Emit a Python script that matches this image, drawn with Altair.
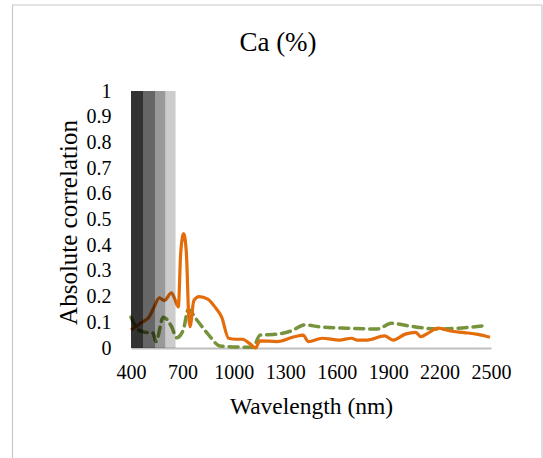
import altair as alt
import pandas as pd

# ---- data ----
orange_wl = [400, 464, 505, 535, 565, 595, 636, 656, 676, 690, 707, 723, 737, 744, 767, 797,
             848, 889, 929, 969, 1010, 1050, 1091, 1127, 1151, 1252, 1353, 1404, 1434, 1514,
             1616, 1687, 1717, 1778, 1879, 1929, 2000, 2061, 2091, 2131, 2192, 2263, 2343,
             2424, 2494]
orange_r = [0.07, 0.10, 0.12, 0.16, 0.195, 0.185, 0.215, 0.19, 0.16, 0.37, 0.445, 0.37, 0.12,
            0.083, 0.185, 0.20, 0.19, 0.16, 0.12, 0.038, 0.034, 0.034, 0.018, 0.0, 0.028,
            0.025, 0.044, 0.05, 0.025, 0.038, 0.031, 0.038, 0.031, 0.031, 0.047, 0.031,
            0.054, 0.061, 0.044, 0.057, 0.077, 0.066, 0.06, 0.053, 0.042]

green_wl = [400, 444, 484, 528, 546, 588, 637, 666, 705, 734, 783, 848, 919, 1016, 1113,
            1152, 1252, 1333, 1414, 1495, 1657, 1838, 1919, 2020, 2181, 2303, 2465]
green_r = [0.12, 0.07, 0.061, 0.058, 0.025, 0.12, 0.083, 0.04, 0.07, 0.15, 0.11, 0.055,
           0.008, 0.004, 0.003, 0.05, 0.054, 0.066, 0.09, 0.083, 0.077, 0.074, 0.096, 0.086,
           0.074, 0.077, 0.087]

band_start = [400, 470, 540, 600]
band_end = [470, 540, 600, 660]
band_opacity = [0.8, 0.6, 0.4, 0.2]

x_ticks = [400, 700, 1000, 1300, 1600, 1900, 2200, 2500]
y_ticks = [0, 0.1, 0.2, 0.3, 0.4, 0.5, 0.6, 0.7, 0.8, 0.9, 1]

FONT = "Liberation Serif, Times New Roman, DejaVu Serif, serif"
W, H = 360, 257

orange_df = pd.DataFrame({"wl": orange_wl, "r": orange_r})
green_df = pd.DataFrame({"wl": green_wl, "r": green_r})
band_df = pd.DataFrame({"x1": band_start, "x2": band_end, "op": band_opacity,
                        "y1": [0] * 4, "y2": [1] * 4})

xscale = alt.Scale(domain=[400, 2500], nice=False, zero=False)
yscale = alt.Scale(domain=[0, 1], nice=False)

xaxis = alt.Axis(values=x_ticks, format="d", title="Wavelength (nm)", grid=False, ticks=False,
                 domainColor="#bfbfbf", domainWidth=2, labelFontSize=20,
                 labelColor="black", labelPadding=14, labelOverlap=False, labelFlush=False,
                 titleFontSize=23.5, titleFontWeight="normal",
                 titleColor="black", titleY=65, titleBaseline="alphabetic")
yaxis = alt.Axis(values=y_ticks, format=".1~f", title="Absolute correlation", grid=False,
                 ticks=False, domain=False, labelFontSize=20,
                 labelColor="black", labelPadding=20, labelOverlap=False,
                 titleFontSize=25, titleFontWeight="normal",
                 titleColor="black", titleX=-55, titleY=131, titleAlign="center",
                 titleBaseline="alphabetic")

border = alt.Chart(pd.DataFrame({"a": [0]})).mark_rect(
    fill=None, stroke="#c8c8c8", strokeWidth=1.2
).encode(x=alt.value(-118.5), x2=alt.value(411), y=alt.value(-86), y2=alt.value(380))

title = alt.Chart(pd.DataFrame({"t": ["Ca (%)"]})).mark_text(
    font=FONT, fontSize=27, color="black", align="center", baseline="alphabetic"
).encode(x=alt.value(147), y=alt.value(-40), text="t:N")

green = alt.Chart(green_df).mark_line(
    color="#77933C", strokeWidth=3.5, strokeDash=[9, 6], interpolate="monotone",
    strokeCap="round"
).encode(x=alt.X("wl:Q", scale=xscale, axis=xaxis),
         y=alt.Y("r:Q", scale=yscale, axis=yaxis))

orange = alt.Chart(orange_df).mark_line(
    color="#E46C0A", strokeWidth=3.2, interpolate="monotone"
).encode(x=alt.X("wl:Q", scale=xscale, axis=xaxis),
         y=alt.Y("r:Q", scale=yscale, axis=yaxis))

bands = alt.Chart(band_df).mark_rect(color="black").encode(
    x=alt.X("x1:Q", scale=xscale, axis=xaxis), x2="x2:Q",
    y=alt.Y("y1:Q", scale=yscale, axis=yaxis), y2="y2:Q",
    opacity=alt.Opacity("op:Q", scale=None, legend=None),
)

chart = alt.layer(border, title, green, orange, bands).properties(
    width=W, height=H,
    autosize=alt.AutoSizeParams(type="none"),
    padding={"left": 131, "top": 91, "right": 52, "bottom": 110},
    background="white",
).configure_view(stroke=None).configure_axis(
    labelFont=FONT, titleFont=FONT
)

chart.save("out.html", embed_options={"renderer": "svg", "actions": False})
